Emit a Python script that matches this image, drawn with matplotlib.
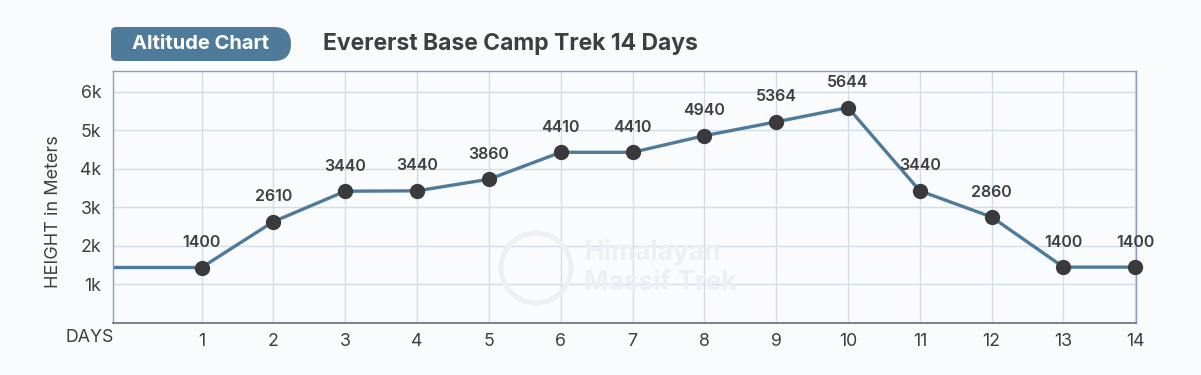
import matplotlib.pyplot as plt
from matplotlib.patches import FancyBboxPatch, Circle

# data
days = [-1, 1, 2, 3, 4, 5, 6, 7, 8, 9, 10, 11, 12, 13, 14]
altitude = [1440, 1440, 2630, 3420, 3430, 3730, 4430, 4430, 4860, 5220,
            5590, 3430, 2750, 1450, 1450]
point_labels = ['1400', '2610', '3440', '3440', '3860', '4410', '4410',
                '4940', '5364', '5644', '3440', '2860', '1400', '1400']
y_ticks = [1000, 2000, 3000, 4000, 5000, 6000]
y_tick_labels = ['1k', '2k', '3k', '4k', '5k', '6k']
x_ticks = list(range(1, 15))

BG = '#f9fbfd'
LINE = '#4f7b9b'
DOT = '#3a3a3c'
TEXT = '#3f3f42'
WM = '#eceff3'

plt.rcParams['font.family'] = ['Inter', 'DejaVu Sans']

fig = plt.figure(figsize=(12.01, 3.75), dpi=100, facecolor=BG)
ax = fig.add_axes([0.0937, 0.1387, 0.8522, 0.672], facecolor=BG)
tr = fig.dpi_scale_trans

# watermark
fig.patches.append(Circle((5.36, 1.07), 0.35, transform=tr, facecolor='none',
                          edgecolor=WM, lw=3.5, figure=fig, zorder=0))
fig.text(5.84, 1.22, 'Himalayan', transform=tr, fontsize=19,
         fontweight='bold', color=WM, va='center', zorder=0)
fig.text(5.84, 0.92, 'Massif Trek', transform=tr, fontsize=19,
         fontweight='bold', color=WM, va='center', zorder=0)

ax.plot(days, altitude, color=LINE, lw=2.4, zorder=2, solid_capstyle='butt')
ax.plot(days[1:], altitude[1:], 'o', color=DOT, ms=10, zorder=3,
        clip_on=False)
for d, a, lab in zip(days[1:], altitude[1:], point_labels):
    ax.annotate(lab, (d, a), xytext=(0, 18), textcoords='offset points',
                ha='center', va='center', fontsize=11.5, fontweight='semibold',
                color=TEXT, zorder=4)

ax.set_xlim(-0.24, 14.01)
ax.set_ylim(0, 6540)
ax.set_xticks(x_ticks)
ax.set_yticks(y_ticks)
ax.set_yticklabels(y_tick_labels)
ax.tick_params(length=0, labelsize=12.8, labelcolor=TEXT)
ax.tick_params(axis='y', pad=8)
ax.tick_params(axis='x', pad=7)
ax.grid(True, color='#d3dde7', lw=1, zorder=0)
ax.set_axisbelow(True)
ax.patch.set_alpha(0)

for side in ['top', 'left', 'right']:
    ax.spines[side].set_color('#8b9dc0')
    ax.spines[side].set_linewidth(1)
ax.spines['bottom'].set_color('#5d6d88')
ax.spines['bottom'].set_linewidth(1.2)

ax.set_ylabel('HEIGHT in Meters', fontsize=13, color=TEXT)
ax.yaxis.set_label_coords(-0.049, 0.44)
fig.text(90 / 1201, 1 - 338 / 375, 'DAYS', ha='center', va='center',
         fontsize=12.8, color=TEXT)

# title pill
fig.patches.append(FancyBboxPatch((1.11, 3.14), 1.5, 0.34,
                                  boxstyle='round,pad=0,rounding_size=0.05',
                                  transform=tr, facecolor=LINE, lw=0,
                                  figure=fig))
fig.patches.append(FancyBboxPatch((2.0, 3.14), 0.91, 0.34,
                                  boxstyle='round,pad=0,rounding_size=0.17',
                                  transform=tr, facecolor=LINE, lw=0,
                                  figure=fig))
fig.text(2.01, 3.31, 'Altitude Chart', transform=tr, ha='center',
         va='center', fontsize=14.5, fontweight='bold', color='white')
fig.text(3.23, 3.31, 'Evererst Base Camp Trek 14 Days', transform=tr,
         ha='left', va='center', fontsize=16.5, fontweight='bold',
         color=TEXT)

fig.savefig('out.png', dpi=100, facecolor=BG)
